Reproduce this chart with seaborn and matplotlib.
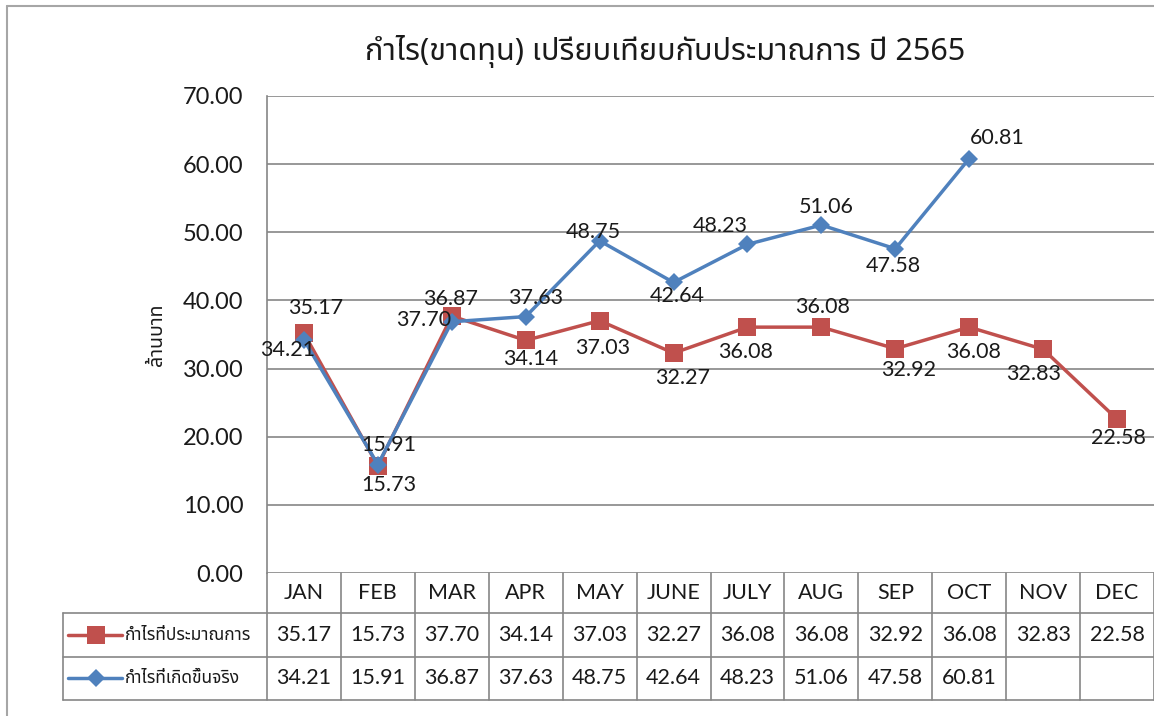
import matplotlib
matplotlib.use('Agg')
import matplotlib.pyplot as plt
import matplotlib.transforms as mtransforms
from matplotlib.lines import Line2D
import seaborn as sns
import pandas as pd

months = ['JAN', 'FEB', 'MAR', 'APR', 'MAY', 'JUNE', 'JULY', 'AUG', 'SEP', 'OCT', 'NOV', 'DEC']
budget = [35.17, 15.73, 37.70, 34.14, 37.03, 32.27, 36.08, 36.08, 32.92, 36.08, 32.83, 22.58]
actual = [34.21, 15.91, 36.87, 37.63, 48.75, 42.64, 48.23, 51.06, 47.58, 60.81, None, None]
budget_name = 'กำไรที่ประมาณการ'
actual_name = 'กำไรที่เกิดขึ้นจริง'
title = 'กำไร(ขาดทุน) เปรียบเทียบกับประมาณการ ปี 2565'
y_label = 'ล้านบาท'
y_ticks = [0, 10, 20, 30, 40, 50, 60, 70]

# label offsets in pixels (dx, dy), per point
budget_off = [(12, 25), (11, -19), (-28, -4), (5, -19), (3, -27), (9, -25),
              (-2, -25), (1, 20), (13, -21), (4, -25), (-10, -25), (1, -19)]
actual_off = [(-16, -10), (11, 20), (-1, 23), (10, 19), (-6, 9), (4, -14),
              (-27, 18), (5, 18), (-2, -17), (28, 21)]

RED = '#C0504D'
BLUE = '#4F81BD'
GRID = '#868686'
TXT = '#1a1a1a'
THAI = ['Noto Sans Thai', 'DejaVu Sans']

sns.set_theme(style='white')
plt.rcParams['font.family'] = ['Lato', 'Noto Sans Thai', 'DejaVu Sans']

W, H = 1154, 716
fy = lambda px: 1 - px / H
fig = plt.figure(figsize=(W / 100, H / 100), dpi=100)
ax = fig.add_axes([267 / W, fy(573), (1154 - 267) / W, (573 - 96) / H])

df = pd.DataFrame({'month': months, 'budget': budget, 'actual': actual})
sns.lineplot(data=df, x='month', y='budget', color=RED, lw=2.5, marker='s', markersize=13,
             markeredgewidth=0, sort=False, ax=ax)
sns.lineplot(data=df, x='month', y='actual', color=BLUE, lw=2.5, marker='D', markersize=9,
             markeredgewidth=0, sort=False, ax=ax)

# data labels
for i, v in enumerate(budget):
    ax.annotate(f'{v:.2f}', (i, v), xytext=budget_off[i], textcoords='offset pixels',
                ha='center', va='center', fontsize=15.5, color=TXT)
for i, v in enumerate(actual):
    if v is None:
        continue
    ax.annotate(f'{v:.2f}', (i, v), xytext=actual_off[i], textcoords='offset pixels',
                ha='center', va='center', fontsize=15.5, color=TXT)

ax.set_xlim(-0.5, 11.5)
ax.set_ylim(0, 70)
ax.set_yticks(y_ticks)
ax.set_yticklabels([f'{v:.2f}' for v in y_ticks], fontsize=17, color=TXT)
ax.tick_params(axis='y', length=0, pad=17)
ax.set_xticks([])
ax.set_xlabel('')
ax.set_ylabel(y_label, fontsize=14, family=THAI, color=TXT)
ax.yaxis.set_label_coords(-0.113, 0.5)
ax.grid(axis='y', color=GRID, lw=1.2)
for s in ['top', 'right', 'bottom']:
    ax.spines[s].set_visible(False)
ax.spines['left'].set_color(GRID)
ax.spines['left'].set_linewidth(1.2)

# data table under the plot
tr = mtransforms.blended_transform_factory(ax.transData, fig.transFigure)
row_lines = [573, 613, 657, 700]
for k in range(13):
    ax.add_line(Line2D([k - 0.5, k - 0.5], [fy(573), fy(700)], transform=tr,
                       color=GRID, lw=1.2, clip_on=False))
for yp in row_lines[1:]:
    fig.add_artist(Line2D([63 / W, 1], [fy(yp), fy(yp)], color=GRID, lw=1.2))
fig.add_artist(Line2D([63 / W, 63 / W], [fy(613), fy(700)], color=GRID, lw=1.2))

for i, m in enumerate(months):
    ax.text(i, fy(593), m, transform=tr, ha='center', va='center', fontsize=15.5, color=TXT)
    ax.text(i, fy(635), f'{budget[i]:.2f}', transform=tr, ha='center', va='center',
            fontsize=15.5, color=TXT)
    if actual[i] is not None:
        ax.text(i, fy(678), f'{actual[i]:.2f}', transform=tr, ha='center', va='center',
                fontsize=15.5, color=TXT)

# legend keys inside the table
for yp, col, mk, ms, name in [(635, RED, 's', 13, budget_name), (678, BLUE, 'D', 9, actual_name)]:
    fig.add_artist(Line2D([68 / W, 122 / W], [fy(yp), fy(yp)], color=col, lw=2.5))
    fig.add_artist(Line2D([96 / W], [fy(yp)], color=col, marker=mk, markersize=ms,
                          markeredgewidth=0, lw=0))
    fig.text(125 / W, fy(yp), name, ha='left', va='center', fontsize=12.5, family=THAI, color=TXT)

# outer chart frame
fig.add_artist(Line2D([7 / W, 7 / W], [0, fy(6)], color='#a6a6a6', lw=1.5))
fig.add_artist(Line2D([7 / W, 1], [fy(6), fy(6)], color='#a6a6a6', lw=1.5))

fig.text(665 / W, fy(52), title, ha='center', va='center', fontsize=22, family=THAI, color=TXT)

fig.savefig('out.png', dpi=100)
